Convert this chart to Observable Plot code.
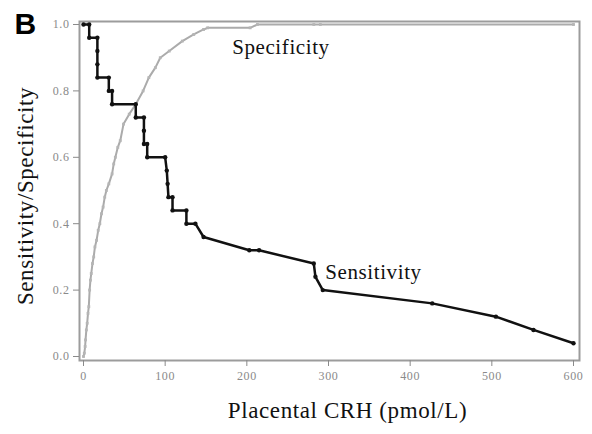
<!DOCTYPE html>
<html>
<head>
<meta charset="utf-8">
<script src="https://cdn.jsdelivr.net/npm/d3@7"></script>
<script src="https://cdn.jsdelivr.net/npm/@observablehq/plot@0.6"></script>
<style>
  html, body { margin: 0; padding: 0; background: #fff; }
  svg g[aria-label="text"] text { letter-spacing: 0.6px; }
  svg g[aria-label$="tick label"] text { letter-spacing: 0.6px; }
</style>
</head>
<body>
<div id="chart"></div>
<script>
// Specificity curve (x = placental CRH pmol/L, y = specificity)
const specX = [0, 1, 2, 2.5, 3.5, 4.5, 5.5, 6.5, 7.5, 8.5, 9.5, 11, 12.5, 14, 16, 18, 20, 22, 24, 26, 28, 31, 35, 37, 39, 42, 45, 49, 56, 64, 73, 80, 88, 94, 105, 121, 135, 147, 152, 204, 213, 282, 290, 600];
const specY = [0, 0.01, 0.03, 0.05, 0.08, 0.10, 0.13, 0.15, 0.20, 0.23, 0.25, 0.28, 0.30, 0.33, 0.35, 0.38, 0.40, 0.43, 0.45, 0.48, 0.50, 0.52, 0.55, 0.58, 0.60, 0.63, 0.65, 0.70, 0.73, 0.76, 0.80, 0.84, 0.87, 0.90, 0.92, 0.95, 0.97, 0.985, 0.99, 0.99, 1.0, 1.0, 1.0, 1.0];

// Sensitivity curve
const sensX = [0, 7, 7, 17, 17, 17, 17, 31, 31, 35, 35, 64, 64, 74, 74, 74, 78, 78, 100, 102, 103, 104, 109, 109, 126, 126, 137, 147, 203, 215, 282, 284, 293, 427, 505, 551, 600];
const sensY = [1.0, 1.0, 0.96, 0.96, 0.92, 0.88, 0.84, 0.84, 0.80, 0.80, 0.76, 0.76, 0.72, 0.72, 0.68, 0.64, 0.64, 0.60, 0.60, 0.56, 0.52, 0.48, 0.48, 0.44, 0.44, 0.40, 0.40, 0.36, 0.32, 0.32, 0.28, 0.24, 0.20, 0.16, 0.12, 0.08, 0.04];

const xTicks = [0, 100, 200, 300, 400, 500, 600];
const yTicks = [0, 0.2, 0.4, 0.6, 0.8, 1.0];

const seriesLabels = ["Specificity", "Sensitivity"];
const labelX = [182, 296];
const labelY = [0.932, 0.253];

const xTitle = "Placental CRH (pmol/L)";
const yTitle = "Sensitivity/Specificity";
const panel = "B";

const spec = specX.map((x, i) => ({x, y: specY[i]}));
const sens = sensX.map((x, i) => ({x, y: sensY[i]}));
const labels = seriesLabels.map((t, i) => ({t, x: labelX[i], y: labelY[i]}));

const chart = Plot.plot({
  width: 592,
  height: 434,
  marginLeft: 79,
  marginRight: 13,
  marginTop: 21,
  marginBottom: 74,
  insetLeft: 4,
  insetRight: 6,
  insetTop: 3,
  insetBottom: 4,
  style: {fontFamily: "Liberation Serif", color: "#8a8a8a", background: "#fff"},
  x: {domain: [0, 600]},
  y: {domain: [0, 1]},
  marks: [
    Plot.frame({stroke: "#9c9c9c", strokeWidth: 2}),
    Plot.axisX({ticks: xTicks, tickSize: 6, tickPadding: 5, fontSize: 12, label: null}),
    Plot.axisY({ticks: yTicks, tickSize: 6, tickPadding: 4, fontSize: 12, tickFormat: d3.format(".1f"), label: null}),
    Plot.line(spec, {x: "x", y: "y", stroke: "#ababab", strokeWidth: 2}),
    Plot.dot(spec, {x: "x", y: "y", symbol: "square", r: 1.6, fill: "#b5b5b5"}),
    Plot.line(sens, {x: "x", y: "y", stroke: "#111", strokeWidth: 2.5}),
    Plot.dot(sens, {x: "x", y: "y", r: 2.2, fill: "#111"}),
    Plot.text(labels, {x: "x", y: "y", text: "t", textAnchor: "start", lineAnchor: "middle", fontSize: 21, fill: "#111"}),
    Plot.text([xTitle], {frameAnchor: "bottom", textAnchor: "middle", lineAnchor: "middle", dx: 18, dy: 50, fontSize: 23, fill: "#111"}),
    Plot.text([yTitle], {frameAnchor: "left", textAnchor: "middle", lineAnchor: "middle", dx: -54, dy: 5, rotate: -90, fontSize: 23, fill: "#111"}),
    Plot.text([panel], {frameAnchor: "top-left", textAnchor: "start", lineAnchor: "middle", dx: -65, dy: 3, fontSize: 30, fontWeight: "bold", fontFamily: "Liberation Sans", fill: "#000"})
  ]
});
document.getElementById("chart").appendChild(chart);
</script>
</body>
</html>
